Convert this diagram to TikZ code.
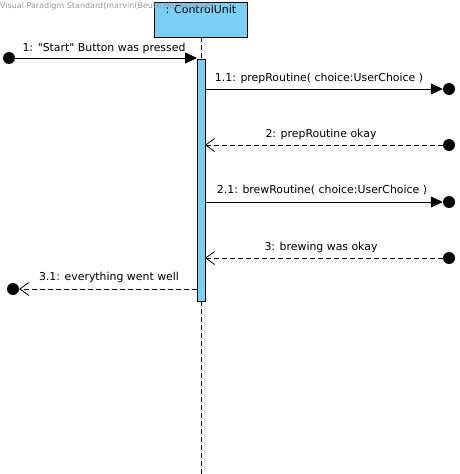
\documentclass[tikz,border=0pt]{standalone}
\usepackage{fontspec}
\setmainfont{DejaVu Sans}
\usetikzlibrary{arrows.meta}
\definecolor{vpblue}{RGB}{122,207,245}
\tikzset{
  x=1pt,y=-1pt,
  msgfont/.style={font=\fontsize{10.9}{13}\selectfont, inner sep=0pt, anchor=base},
  endpt/.style={circle, fill=black, minimum size=12pt, inner sep=0pt},
  call/.style={draw=black, line width=0.8pt, -{Triangle[length=12pt,width=11pt]}},
  ret/.style={draw=black, line width=0.8pt, dashed, dash pattern=on 5pt off 3pt, -{Straight Barb[length=9pt,width=13pt,line width=0.8pt]}},
  lifeline/.style={draw=black, line width=0.8pt, dash pattern=on 5pt off 3pt}
}
\begin{document}
\begin{tikzpicture}
\useasboundingbox (0,0) rectangle (460,474);
% header
\node[draw=black, fill=vpblue, line width=0.8pt, minimum width=93pt, minimum height=35pt, inner sep=0pt] (head) at (200.5,19.5) {};
\node[font=\fontsize{11}{13}\selectfont, inner sep=0pt, anchor=base] (headtxt) at (201,13.5) {: ControlUnit};
\node[font=\fontsize{8}{9}\selectfont, text=black!40, inner sep=0pt, anchor=base west] (wm) at (0,8.5) {Visual Paradigm Standard(marvin(Beuth Hochschule))};
% lifeline
\coordinate (lltop) at (201,37);
\coordinate (llbot) at (201,474);
\draw[lifeline] (lltop) -- (llbot);
% activation
\node[draw=black, fill=vpblue, line width=0.8pt, minimum width=8pt, minimum height=242pt, inner sep=0pt, anchor=north] (act) at (201,59) {};
% endpoints
\node[endpt] (s1) at (9,58) {};
\node[endpt] (e11) at (449,89) {};
\node[endpt] (s2) at (449,145) {};
\node[endpt] (e21) at (449,202) {};
\node[endpt] (s3) at (449,258) {};
\node[endpt] (e31) at (13,289) {};
% anchor coordinates on activation bar
\coordinate (a1) at (197,58);
\coordinate (a11) at (205,89);
\coordinate (a2) at (205,145);
\coordinate (a21) at (205,202);
\coordinate (a3) at (205,258);
\coordinate (a31) at (197,289);
% messages
\draw[call] (s1.center) -- (a1);
\draw[call] (a11) -- (e11.west);
\draw[ret] (s2.west) -- (a2);
\draw[call] (a21) -- (e21.west);
\draw[ret] (s3.west) -- (a3);
\draw[ret] (a31) -- (e31.east);
% labels
\node[msgfont] (l1) at (104,51) {1: \textquotedbl Start\textquotedbl{} Button was pressed};
\node[msgfont] (l11) at (319,81.5) {1.1: prepRoutine( choice:UserChoice )};
\node[msgfont] (l2) at (321,137) {2: prepRoutine okay};
\node[msgfont] (l21) at (322,193) {2.1: brewRoutine( choice:UserChoice )};
\node[msgfont] (l3) at (321,250) {3: brewing was okay};
\node[msgfont] (l31) at (109,280) {3.1: everything went well};
\end{tikzpicture}
\end{document}
